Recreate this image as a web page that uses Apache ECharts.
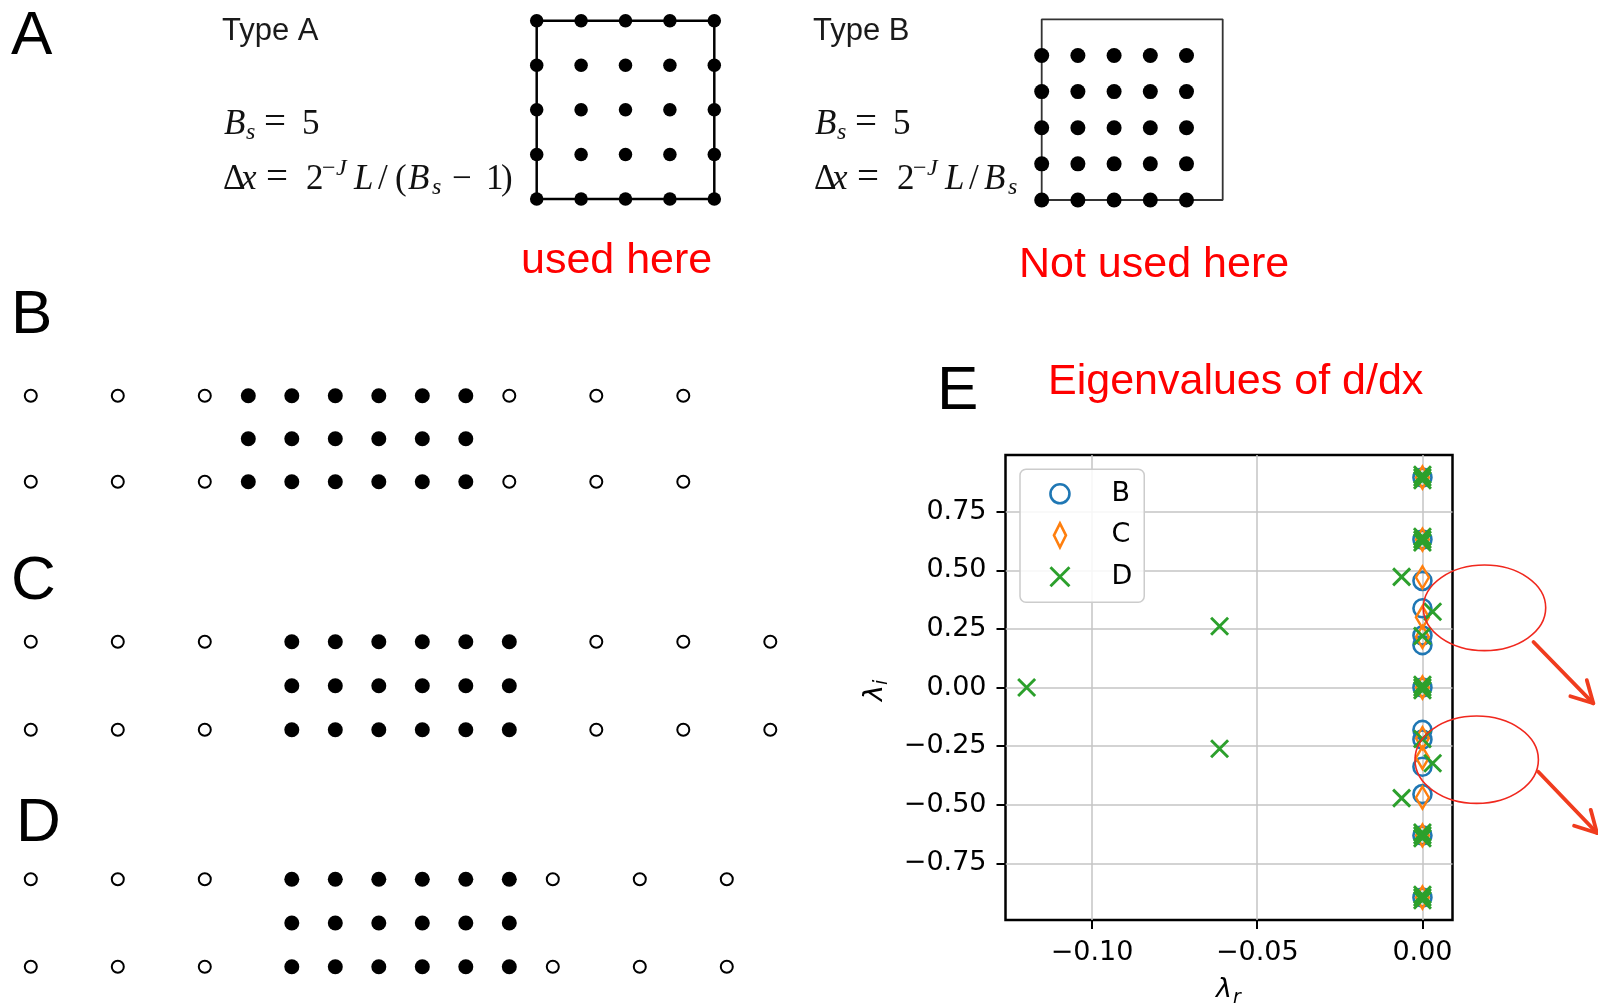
<!DOCTYPE html>
<html><head><meta charset="utf-8">
<script src="https://cdn.jsdelivr.net/npm/echarts@6/dist/echarts.min.js"></script>
<style>html,body{margin:0;padding:0;background:#fff}#c{width:1598px;height:1004px}</style>
</head><body><div id="c"></div>
<script>
// ---------------- DATA ----------------
// Panel A, Type A element (nodes on the box edges)
const typeACols = [0, 1, 2, 3, 4];
const typeARows = [0, 1, 2, 3, 4];
const typeABoxX = [0, 4, 4, 0, 0];
const typeABoxY = [0, 0, 4, 4, 0];
// Panel A, Type B element
const typeBCols = [0, 1, 2, 3, 4];
const typeBRows = [0, 1, 2, 3, 4];
const typeBBoxX = [0, 5, 5, 0, 0];
const typeBBoxY = [0, 0, 5, 5, 0];
// Panels B, C, D (positions in units of dx)
const rowsOuter = [0, 2];
const rowsAll = [0, 1, 2];
const panelBOpen = [0, 2, 4, 11, 13, 15];
const panelBFilled = [5, 6, 7, 8, 9, 10];
const panelCOpen = [0, 2, 4, 13, 15, 17];
const panelCFilled = [6, 7, 8, 9, 10, 11];
const panelDOpen = [0, 2, 4, 12, 14, 16];
const panelDFilled = [6, 7, 8, 9, 10, 11];
// Panel E: eigenvalues (real part, imaginary part)
const eigBRe = [0, 0, 0, 0, 0, 0, 0, 0, 0, 0, 0, 0, 0];
const eigBIm = [0.896, 0.631, 0.455, 0.338, 0.222, 0.181, 0.0, -0.181, -0.222, -0.338, -0.455, -0.631, -0.896];
const eigCRe = [0, 0, 0, 0, 0, 0, 0, 0, 0, 0, 0];
const eigCIm = [0.896, 0.631, 0.470, 0.300, 0.216, 0.0, -0.216, -0.300, -0.470, -0.631, -0.896];
const eigDRe = [0, 0, 0, 0, 0, 0, -0.0063, 0.0031, 0, -0.0614, -0.1198, 0, 0, 0,
                -0.0614, 0, 0.0031, -0.0063, 0, 0, 0, 0, 0, 0];
const eigDIm = [0.908, 0.896, 0.884, 0.643, 0.631, 0.619, 0.472, 0.323, 0.220, 0.2615, 0.0, 0.012, 0.0, -0.012,
                -0.2615, -0.220, -0.323, -0.472, -0.619, -0.631, -0.643, -0.884, -0.896, -0.908];
const xTicks = [-0.10, -0.05, 0.00];
const yTicks = [-0.75, -0.50, -0.25, 0.00, 0.25, 0.50, 0.75];
const legendNames = ['B', 'C', 'D'];

// ---------------- helpers ----------------
const cart = (xs, ys) => xs.flatMap(x => ys.map(y => [x, y]));
const zip = (xs, ys) => xs.map((x, i) => [x, ys[i]]);
const fmt = v => (v < 0 ? '\u2212' : '') + Math.abs(v).toFixed(2);

const hiddenAxis = (idx, min, max) => ({gridIndex: idx, type: 'value', min, max, show: false});

const grids = [
  {left: 536.7, top: 20.7, width: 177.6, height: 178.3},
  {left: 1041.7, top: 19.3, width: 181, height: 180.7},
  {left: 30.8, top: 395.7, width: 783, height: 86},
  {left: 30.8, top: 641.7, width: 783, height: 88},
  {left: 30.8, top: 879.3, width: 783, height: 87.4},
  {left: 1005.5, top: 455, width: 447, height: 465, show: true, borderColor: '#000', borderWidth: 2.5}
];

const xAxes = [
  hiddenAxis(0, 0, 4), hiddenAxis(1, 0, 5), hiddenAxis(2, 0, 18), hiddenAxis(3, 0, 18), hiddenAxis(4, 0, 18),
  {gridIndex: 5, type: 'value', min: -0.1262, max: 0.0091, position: 'bottom',
   axisLine: {show: false, onZero: false},
   axisTick: {show: true, inside: false, length: 9, customValues: xTicks, lineStyle: {color: '#000', width: 2}},
   axisLabel: {customValues: xTicks, formatter: fmt, fontSize: 27, fontFamily: 'DejaVu Sans', color: '#000', margin: 19},
   splitLine: {show: true, lineStyle: {color: '#c4c4c4', width: 1.5}}}
];
const yAxes = [
  hiddenAxis(0, 0, 4), hiddenAxis(1, 0, 5), hiddenAxis(2, 0, 2), hiddenAxis(3, 0, 2), hiddenAxis(4, 0, 2),
  {gridIndex: 5, type: 'value', min: -0.992, max: 0.992, position: 'left',
   axisLine: {show: false, onZero: false},
   axisTick: {show: true, inside: false, length: 9, customValues: yTicks, lineStyle: {color: '#000', width: 2}},
   axisLabel: {customValues: yTicks, formatter: fmt, fontSize: 27, fontFamily: 'DejaVu Sans', color: '#000', margin: 19,
     padding: [6, 0, 0, 0]},
   splitLine: {show: true, lineStyle: {color: '#c4c4c4', width: 1.5}}}
];

const dot = (idx, data, size) => ({type: 'scatter', xAxisIndex: idx, yAxisIndex: idx, data, symbol: 'circle',
  symbolSize: size, clip: false, silent: true, z: 3, itemStyle: {color: '#000', opacity: 1}});
const ring = (idx, data) => ({type: 'scatter', xAxisIndex: idx, yAxisIndex: idx, data, symbol: 'circle',
  symbolSize: 12, clip: false, silent: true, z: 3, itemStyle: {color: '#fff', borderColor: '#000', borderWidth: 2, opacity: 1}});
const box = (idx, data, w, c) => ({type: 'line', xAxisIndex: idx, yAxisIndex: idx, data, symbol: 'none',
  clip: false, silent: true, z: 2, lineStyle: {color: c, width: w}});

const DIAMOND = 'path://M5,0L10,10L5,20L0,10Z';
const CROSS = 'path://M0,0L10,10M10,0L0,10';

const series = [
  box(0, zip(typeABoxX, typeABoxY), 2.5, '#000'),
  dot(0, cart(typeACols, typeARows), 13.5),
  box(1, zip(typeBBoxX, typeBBoxY), 1.8, '#333'),
  dot(1, cart(typeBCols, typeBRows), 15),
  ring(2, cart(panelBOpen, rowsOuter)), dot(2, cart(panelBFilled, rowsAll), 15),
  ring(3, cart(panelCOpen, rowsOuter)), dot(3, cart(panelCFilled, rowsAll), 15),
  ring(4, cart(panelDOpen, rowsOuter)), dot(4, cart(panelDFilled, rowsAll), 15),
  {name: 'B', type: 'scatter', xAxisIndex: 5, yAxisIndex: 5, data: zip(eigBRe, eigBIm), symbol: 'circle',
   symbolSize: 18, clip: false, z: 3, itemStyle: {color: 'rgba(0,0,0,0)', borderColor: '#1f77b4', borderWidth: 2.6, opacity: 1}},
  {name: 'C', type: 'scatter', xAxisIndex: 5, yAxisIndex: 5, data: zip(eigCRe, eigCIm), symbol: DIAMOND,
   symbolSize: [13, 22], clip: false, z: 3, itemStyle: {color: 'rgba(0,0,0,0)', borderColor: '#ff7f0e', borderWidth: 2.6, opacity: 1}},
  {name: 'D', type: 'scatter', xAxisIndex: 5, yAxisIndex: 5, data: zip(eigDRe, eigDIm), symbol: CROSS,
   symbolSize: 17, clip: false, z: 3, itemStyle: {color: 'rgba(0,0,0,0)', borderColor: '#2ca02c', borderWidth: 2.9, opacity: 1}}
];

// ---------------- text / annotations ----------------
const K = {'Liberation Sans': 0.285, 'Liberation Serif': 0.27, 'DejaVu Sans': 0.30};
function T(text, x, base, size, fam, extra) {
  extra = extra || {};
  const famKey = fam.split(',')[0].replace(/'/g, '').trim();
  const k = K[famKey] || 0.29;
  return {type: 'text', silent: true, z: 10, x: x, y: base - k * size,
    style: {text: text, fontSize: size, fontFamily: fam, fill: extra.fill || '#000',
      fontStyle: extra.italic ? 'italic' : 'normal', align: 'left', verticalAlign: 'middle',
      textAlign: 'left', textVerticalAlign: 'middle'}};
}
const LETTER = 'Liberation Sans';
const SERIF = 'Liberation Serif';
function formula(x0, base, pieces) {
  return pieces.map(p => T(p[0], x0 + p[1], base + (p[2] || 0), p[3] || 35, SERIF, {italic: !!p[4], fill: '#111'}));
}
const line1 = [['B', 0, 0, 35, 1], ['s', 22, 5, 24, 1], ['=', 40, 0, 39], ['5', 78]];
const line2A = [['\u0394', -1], ['x', 17, 0, 35, 1], ['=', 42, 0, 39], ['2', 82], ['\u2212', 98, -14, 24], ['J', 112, -14, 24, 1],
  ['L', 130, 0, 35, 1], ['/', 154], ['(', 171], ['B', 184, 0, 35, 1], ['s', 208, 5, 24, 1], ['\u2212', 228], ['1', 262], [')', 277]];
const line2B = [['\u0394', -1], ['x', 17, 0, 35, 1], ['=', 42, 0, 39], ['2', 82], ['\u2212', 98, -14, 24], ['J', 112, -14, 24, 1],
  ['L', 130, 0, 35, 1], ['/', 154], ['B', 169, 0, 35, 1], ['s', 193, 5, 24, 1]];

function arrow(x1, y1, x2, y2, color) {
  const a = Math.atan2(y2 - y1, x2 - x1), L = 24, s = 0.5;
  const b1 = [x2 - L * Math.cos(a - s), y2 - L * Math.sin(a - s)];
  const b2 = [x2 - L * Math.cos(a + s), y2 - L * Math.sin(a + s)];
  return [
    {type: 'line', silent: true, z: 10, shape: {x1, y1, x2, y2}, style: {stroke: color, lineWidth: 3.8, lineCap: 'round'}},
    {type: 'polyline', silent: true, z: 10, shape: {points: [b1, [x2, y2], b2]}, style: {stroke: color, lineWidth: 3.8, fill: null, lineJoin: 'round', lineCap: 'round'}}
  ];
}

const graphics = [].concat(
  [T('A', 11, 55, 62, LETTER), T('B', 11, 333.5, 62, LETTER), T('C', 11, 599.5, 62, LETTER),
   T('D', 16, 842, 62, LETTER), T('E', 937, 409.5, 62, LETTER)],
  [T('used here', 521, 273.5, 43, 'Liberation Sans', {fill: '#ff0000'}),
   T('Not used here', 1019, 277, 43, 'Liberation Sans', {fill: '#ff0000'}),
   T('Eigenvalues of d/dx', 1048, 394, 43, 'Liberation Sans', {fill: '#ff0000'})],
  [T('Type A', 222, 40, 31, 'Liberation Sans', {fill: '#1a1a1a'}),
   T('Type B', 813, 40, 31, 'Liberation Sans', {fill: '#1a1a1a'})],
  formula(224, 134, line1), formula(815, 134, line1),
  formula(224, 189, line2A), formula(815, 189, line2B),
  [T('\u03bb', 1216, 998, 27, 'DejaVu Sans', {italic: true}), T('r', 1233, 1004, 19, 'DejaVu Sans', {italic: true}),
   {type: 'group', x: 883, y: 701, rotation: Math.PI / 2, silent: true, z: 10,
    children: [T('\u03bb', 0, 0, 27, 'DejaVu Sans', {italic: true}), T('i', 16, 5, 19, 'DejaVu Sans', {italic: true})]}],
  [{type: 'ellipse', silent: true, z: 10, shape: {cx: 1484.5, cy: 607.8, rx: 61.2, ry: 42.8}, style: {fill: null, stroke: '#f0281e', lineWidth: 1.6}},
   {type: 'ellipse', silent: true, z: 10, shape: {cx: 1476.7, cy: 759.7, rx: 61.7, ry: 43.7}, style: {fill: null, stroke: '#f0281e', lineWidth: 1.6}}],
  arrow(1533.5, 642, 1593.3, 703.3, '#f03c1e'),
  arrow(1538.3, 771.7, 1597, 833, '#f03c1e')
);

const chart = echarts.init(document.getElementById('c'), null, {renderer: 'canvas'});
chart.setOption({
  animation: false,
  backgroundColor: '#fff',
  grid: grids,
  xAxis: xAxes,
  yAxis: yAxes,
  legend: {
    data: [
      {name: 'B', icon: 'circle', itemStyle: {color: 'rgba(0,0,0,0)', borderColor: '#1f77b4', borderWidth: 2.6}},
      {name: 'C', icon: DIAMOND, itemStyle: {color: 'rgba(0,0,0,0)', borderColor: '#ff7f0e', borderWidth: 2.6}},
      {name: 'D', icon: CROSS, itemStyle: {color: 'rgba(0,0,0,0)', borderColor: '#2ca02c', borderWidth: 2.9}}
    ].filter(d => legendNames.includes(d.name)),
    orient: 'vertical', left: 1020, top: 469.3,
    padding: [11, 12, 12, 29], itemGap: 14.5, itemWidth: 19, itemHeight: 24,
    selectedMode: false, symbolKeepAspect: true,
    textStyle: {fontSize: 27, fontFamily: 'DejaVu Sans', color: '#000', lineHeight: 24, padding: [0, 0, 0, 37]},
    backgroundColor: 'rgba(255,255,255,0.85)', borderColor: '#cccccc', borderWidth: 1.5, borderRadius: 6, z: 8
  },
  series: series,
  graphic: {elements: graphics}
});
</script></body></html>
